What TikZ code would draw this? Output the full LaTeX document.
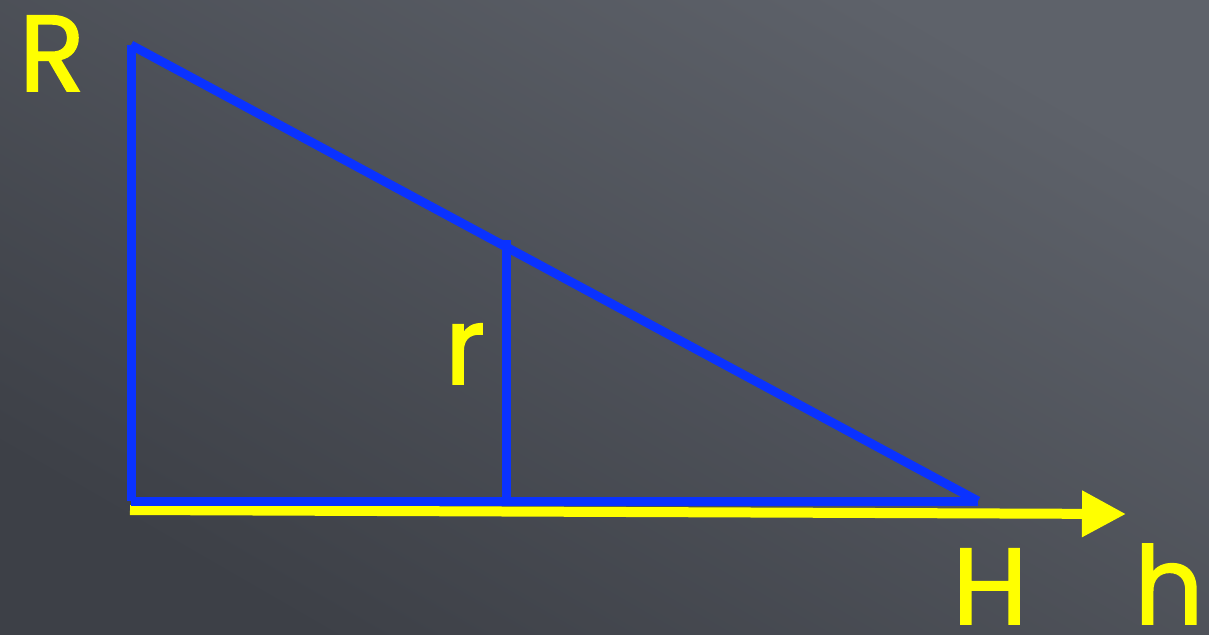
\documentclass[tikz,border=0pt]{standalone}
\usepackage{fontspec}
\setmainfont{Poppins}
\newfontfamily\lblfont{Poppins}[FakeBold=1.6]
\usetikzlibrary{arrows.meta}
\definecolor{boardA}{HTML}{5E626A}
\definecolor{boardB}{HTML}{3D4047}
\definecolor{lineblue}{HTML}{0A32FF}
\definecolor{chalkyellow}{HTML}{FFFF00}
\tikzset{
  blueline/.style={draw=lineblue, line width=9pt},
  axisline/.style={draw=chalkyellow, line width=10pt, -{Triangle[length=44pt,width=44pt]}},
  lbl/.style={text=chalkyellow, font=\lblfont\fontsize{108}{108}\selectfont, inner sep=0pt, anchor=base},
}
\begin{document}
\begin{tikzpicture}[x=1pt,y=-1pt]
  \shade[top color=boardA, bottom color=boardB, shading angle=-30] (0,0) rectangle (1209,634);
  \useasboundingbox (0,0) rectangle (1209,634);
  % vertices
  \coordinate (top) at (131,45);
  \coordinate (corner) at (131,501);
  \coordinate (tip) at (978,501);
  \coordinate (midtop) at (506,240);
  \coordinate (midbot) at (506,501);
  \coordinate (axstart) at (130,510);
  \coordinate (axend) at (1126,514);
  % axis
  \draw[axisline] (axstart) -- (axend);
  % triangle
  \draw[blueline] (top) -- (corner);
  \draw[blueline] (corner) -- (tip);
  \draw[blueline] (top) -- (tip);
  \draw[blueline] (midtop) -- (midbot);
  % labels
  \node[lbl] (R) at (52,91) {R};
  \node[lbl] (r) at (465,384) {r};
  \node[lbl] (H) at (990,624) {H};
  \node[lbl] (h) at (1169,624) {h};
\end{tikzpicture}
\end{document}
